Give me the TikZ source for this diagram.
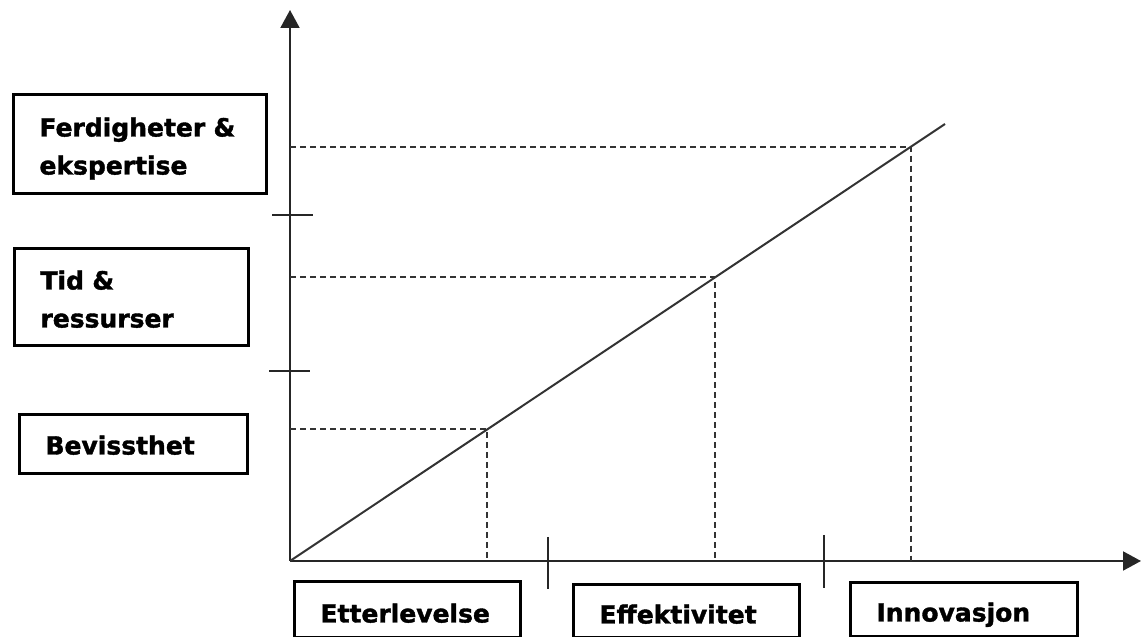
\documentclass[tikz,border=0pt]{standalone}
\usepackage{fontspec}
\setmainfont{DejaVu Sans}[BoldFeatures={FakeBold=1.5}]
\usetikzlibrary{arrows.meta,calc}
\begin{document}
\begin{tikzpicture}[x=1pt,y=1pt,
  axis/.style={line width=2pt,draw=black!85,-{Triangle[length=18pt,width=19pt]}},
  tick/.style={line width=1.6pt,draw=black!85},
  curve/.style={line width=2pt,draw=black!80},
  guide/.style={line width=2pt,draw=black!80,dash pattern=on 6pt off 4pt},
  labelbox/.style={draw,line width=3pt,anchor=north west,align=left,
    inner xsep=26pt,inner ysep=0pt,font=\bfseries\fontsize{25}{38}\selectfont}]
\useasboundingbox (0,0) rectangle (1141,637);

% axes
\coordinate (O) at (290,76);
\coordinate (ytop) at (290,627);
\coordinate (xend) at (1141,76);
\draw[axis] (O) -- (ytop);
\draw[axis] (O) -- (xend);

% ticks on the axes
\coordinate (ty1a) at (272,422); \coordinate (ty1b) at (313,422);
\coordinate (ty2a) at (269,266); \coordinate (ty2b) at (310,266);
\coordinate (tx1a) at (548,100); \coordinate (tx1b) at (548,48);
\coordinate (tx2a) at (824,102); \coordinate (tx2b) at (824,49);
\draw[tick] (ty1a) -- (ty1b);
\draw[tick] (ty2a) -- (ty2b);
\draw[tick] (tx1a) -- (tx1b);
\draw[tick] (tx2a) -- (tx2b);

% rising line
\coordinate (E) at (945,513);
\draw[curve] (O) -- (E);

% reading points on the line
\coordinate (P1) at (487,207.5);
\coordinate (P2) at (715,359.6);
\coordinate (P3) at (911,490.3);
\foreach \p in {P1,P2,P3}{
  \draw[guide] (O |- \p) -- (\p) -- (\p |- O);
}

% level boxes (vertical axis); two-line boxes: depth counts from the first baseline
\node[labelbox,text width=201pt,text height=42pt,text depth=57pt] (ferd) at (12,544) {Ferdigheter \&\\ekspertise};
\node[labelbox,text width=182pt,text height=41pt,text depth=56pt] (tid) at (13,390) {Tid \&\\ressurser};
\node[labelbox,text width=176pt,text height=40pt,text depth=19pt] (bev) at (18,224) {Bevissthet};

% stage boxes (horizontal axis)
\node[labelbox,text width=174pt,text height=41pt,text depth=15pt] (ett) at (293,57) {Etterlevelse};
\node[labelbox,text width=174pt,text height=39pt,text depth=14pt] (eff) at (572,54) {Effektivitet};
\node[labelbox,text width=175pt,text height=39pt,text depth=15pt] (inn) at (849,56) {Innovasjon};
\end{tikzpicture}
\end{document}
